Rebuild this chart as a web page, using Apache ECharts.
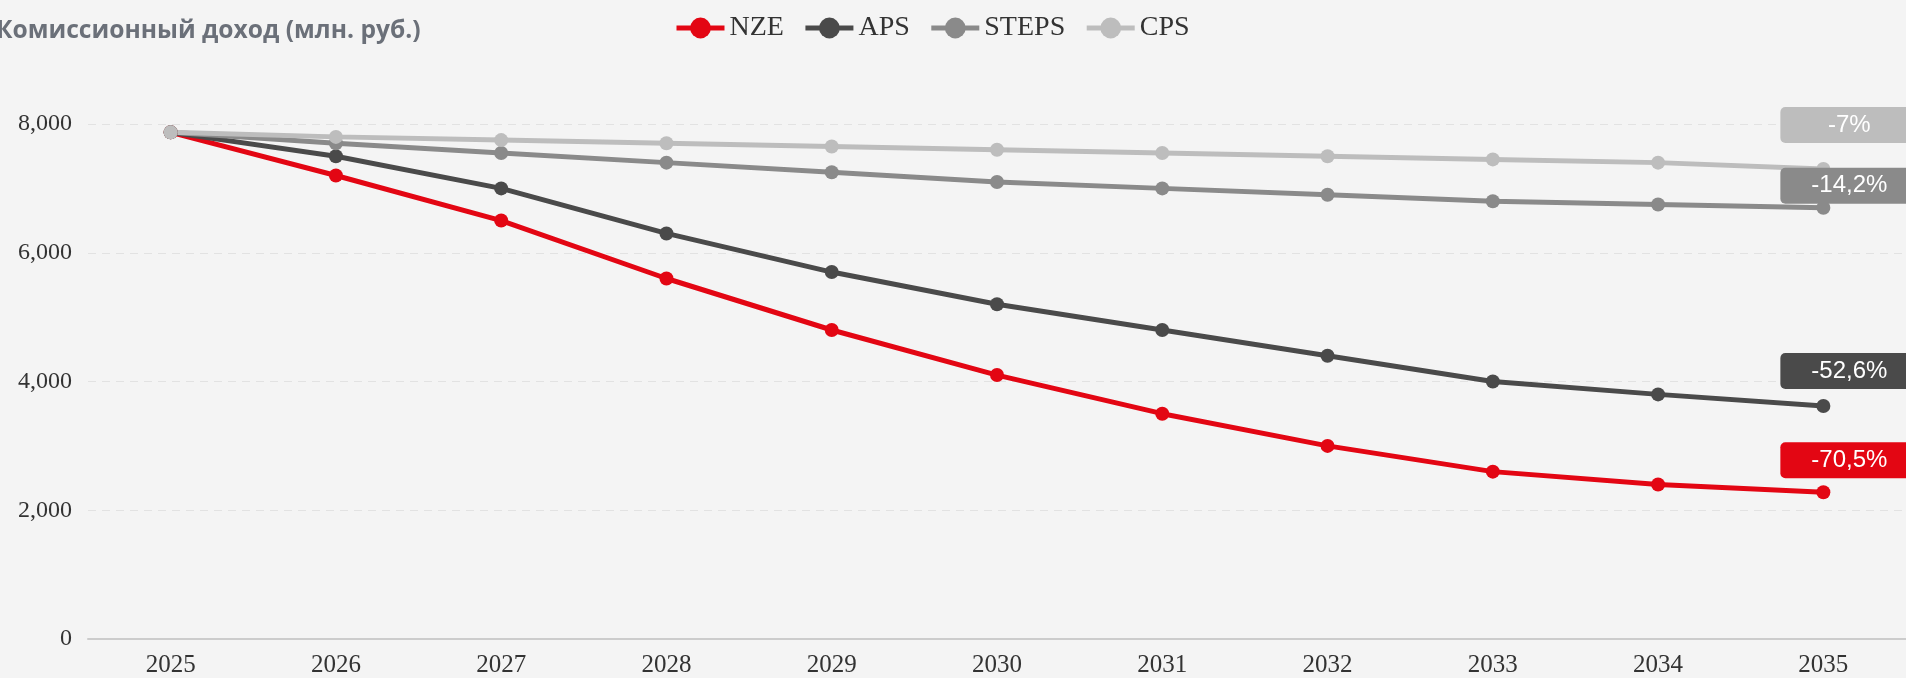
<!DOCTYPE html>
<html>
<head>
<meta charset="utf-8">
<script src="https://cdn.jsdelivr.net/npm/echarts@6/dist/echarts.min.js"></script>
<style>
  html, body { margin: 0; padding: 0; background: #f4f4f4; }
  #chart { width: 1906px; height: 678px; }
</style>
</head>
<body>
<div id="chart"></div>
<script>
// данные
var years = ["2025", "2026", "2027", "2028", "2029", "2030", "2031", "2032", "2033", "2034", "2035"];
var nze = [7870, 7200, 6500, 5600, 4800, 4100, 3500, 3000, 2600, 2400, 2280];
var aps = [7870, 7500, 7000, 6300, 5700, 5200, 4800, 4400, 4000, 3800, 3620];
var steps = [7870, 7700, 7550, 7400, 7250, 7100, 7000, 6900, 6800, 6750, 6700];
var cps = [7870, 7800, 7750, 7700, 7650, 7600, 7550, 7500, 7450, 7400, 7300];
var endLabels = ["-70,5%", "-52,6%", "-14,2%", "-7%"];
var yTicks = [0, 2000, 4000, 6000, 8000];

var names = ["NZE", "APS", "STEPS", "CPS"];
var colors = ["#e30613", "#4a4a4a", "#8a8a8a", "#bdbdbd"];
var labelDy = [-32, -35, -22, -44];

function makeSeries(idx, values) {
  var last = values.length - 1;
  return {
    name: names[idx],
    type: "line",
    symbol: "circle",
    symbolSize: 14,
    lineStyle: { width: 5, color: colors[idx] },
    itemStyle: { color: colors[idx] },
    emphasis: { disabled: true },
    data: values.map(function (v, i) {
      if (i !== last) return v;
      return {
        value: v,
        label: {
          show: true,
          position: "inside",
          offset: [32, labelDy[idx]],
          formatter: endLabels[idx],
          color: "#fff",
          fontFamily: "Liberation Sans, Arial, sans-serif",
          fontSize: 24,
          lineHeight: 24,
          width: 138,
          align: "center",
          verticalAlign: "middle",
          backgroundColor: colors[idx],
          borderRadius: 5,
          padding: [6, 12, 6, 0]
        }
      };
    })
  };
}

var myChart = echarts.init(document.getElementById("chart"));
myChart.setOption({
  backgroundColor: "#f4f4f4",
  animation: false,
  color: colors,
  title: {
    text: "Комиссионный доход (млн. руб.)",
    left: -9,
    top: 13,
    textStyle: {
      fontFamily: "Open Sans, sans-serif",
      fontWeight: "bold",
      fontSize: 24.6,
      color: "#6b7079"
    }
  },
  legend: {
    data: names,
    left: 669,
    top: 9,
    itemWidth: 48,
    itemHeight: 26,
    itemGap: 19,
    lineStyle: { width: 5 },
    textStyle: {
      fontFamily: "Liberation Serif, Times New Roman, serif",
      fontSize: 28,
      color: "#333"
    }
  },
  grid: {
    left: 88,
    top: 124,
    bottom: 35,
    width: 1828
  },
  xAxis: {
    type: "category",
    data: years,
    boundaryGap: true,
    axisLine: { lineStyle: { color: "#cccccc", width: 2 } },
    axisTick: { length: 9, lineStyle: { color: "#cccccc", width: 1.5 } },
    axisLabel: {
      margin: 14,
      fontFamily: "Liberation Serif, Times New Roman, serif",
      fontSize: 25,
      color: "#333"
    }
  },
  yAxis: {
    type: "value",
    min: yTicks[0],
    max: yTicks[yTicks.length - 1],
    interval: 2000,
    axisLine: { show: false },
    axisTick: { show: false },
    axisLabel: {
      margin: 16,
      fontFamily: "Liberation Serif, Times New Roman, serif",
      fontSize: 24,
      color: "#333",
      formatter: function (v) { return v.toLocaleString("en-US"); }
    },
    splitLine: { lineStyle: { type: [8, 6], color: "#e2e2e2", width: 1 } }
  },
  series: [
    makeSeries(0, nze),
    makeSeries(1, aps),
    makeSeries(2, steps),
    makeSeries(3, cps)
  ]
});
</script>
</body>
</html>
